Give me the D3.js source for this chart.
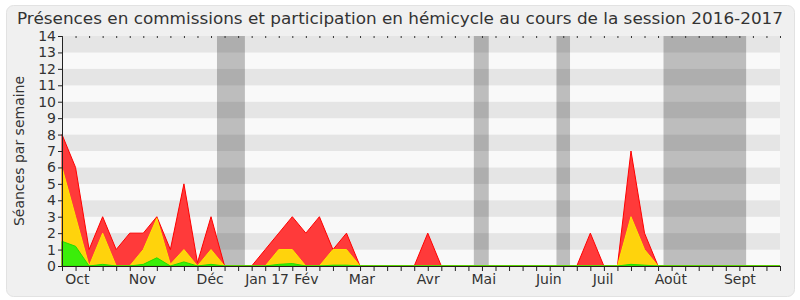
<!DOCTYPE html>
<html>
<head>
<meta charset="utf-8">
<script src="https://cdn.jsdelivr.net/npm/d3@7"></script>
<style>
  body { margin: 0; background: #fff; }
  text { font-family: "DejaVu Sans", sans-serif; fill: #333; }
</style>
</head>
<body>
<div id="chart"></div>
<script>
// weekly values (top of each layer), week 0..53
const totalTop = [8, 6, 1, 3, 1, 2, 2, 3, 1, 5, 0.2, 3, 0, 0, 0, 1, 2, 3, 2, 3, 1, 2, 0, 0, 0, 0, 0, 2, 0, 0, 0, 0, 0, 0, 0, 0, 0, 0, 0, 2, 0, 0, 7, 2, 0, 0, 0, 0, 0, 0, 0, 0, 0, 0];
const yellowTop = [6, 3, 0, 2, 0, 0, 1, 2.9, 0.1, 1, 0, 1, 0, 0, 0, 0, 1, 1, 0, 0, 1, 1, 0, 0, 0, 0, 0, 0, 0, 0, 0, 0, 0, 0, 0, 0, 0, 0, 0, 0, 0, 0, 3, 1, 0, 0, 0, 0, 0, 0, 0, 0, 0, 0];
const greenTop = [1.5, 1.2, 0, 0.1, 0, 0, 0.1, 0.5, 0, 0.25, 0, 0.1, 0, 0, 0, 0, 0.1, 0.15, 0, 0, 0.05, 0.05, 0, 0, 0, 0, 0, 0, 0, 0, 0, 0, 0, 0, 0, 0, 0, 0, 0, 0, 0, 0, 0.1, 0.05, 0, 0, 0, 0, 0, 0, 0, 0, 0, 0];

const monthLabels = ["Oct", "Nov", "Déc", "Jan 17", "Fév", "Mar", "Avr", "Mai", "Juin", "Juil", "Août", "Sept"];
const monthWeeks = [1.1, 5.9, 10.9, 15.1, 18, 22.1, 27, 31.1, 35.9, 39.9, 44.9, 50];

// vacation periods, in weeks
const vacStart = [11.44, 30.4, 36.5, 44.4];
const vacEnd = [13.5, 31.5, 37.5, 50.5];

const width = 800, height = 300;
const margin = {top: 36, right: 20, bottom: 34, left: 62};
const innerW = width - margin.left - margin.right;
const innerH = height - margin.top - margin.bottom;

const svg = d3.select('#chart').append('svg')
    .attr('width', width)
    .attr('height', height);

svg.append('rect')
    .attr('x', 6.5).attr('y', 5.5)
    .attr('width', 788).attr('height', 291)
    .attr('rx', 7)
    .attr('fill', '#f0f0f0')
    .attr('stroke', '#e2e2e2');

svg.append('text')
    .attr('x', 400).attr('y', 24)
    .attr('text-anchor', 'middle')
    .attr('font-size', 16)
    .attr('textLength', 766)
    .attr('lengthAdjust', 'spacingAndGlyphs')
    .text('Présences en commissions et participation en hémicycle au cours de la session 2016-2017');

const g = svg.append('g')
    .attr('transform', `translate(${margin.left},${margin.top})`);

const x = d3.scaleLinear().domain([0, totalTop.length - 1]).range([0, innerW]);
const y = d3.scaleLinear().domain([0, 14]).range([innerH, 0]);

// stripes
g.selectAll('.stripe').data(d3.range(14))
    .enter().append('rect')
    .attr('x', 0)
    .attr('width', innerW)
    .attr('y', d => y(d + 1))
    .attr('height', d => y(d) - y(d + 1))
    .attr('fill', d => d % 2 ? '#e5e5e5' : '#f9f9f9');

// vacations
g.selectAll('.vac').data(vacStart)
    .enter().append('rect')
    .attr('x', d => x(d))
    .attr('width', (d, i) => x(vacEnd[i]) - x(d))
    .attr('y', 0)
    .attr('height', innerH)
    .attr('fill', 'rgba(0,0,0,0.24)');

const layers = [
    {data: totalTop, fill: '#ff3a3a', stroke: '#ff0000'},
    {data: yellowTop, fill: '#ffd30c', stroke: '#ffe600'},
    {data: greenTop, fill: '#3bee0a', stroke: '#22dd00'}
];

layers.forEach(l => {
    const area = d3.area()
        .x((d, i) => x(i))
        .y0(y(0))
        .y1(d => y(d));
    g.append('path')
        .datum(l.data)
        .attr('d', area)
        .attr('fill', l.fill)
        .attr('stroke', l.stroke)
        .attr('stroke-width', 1);
});

// axes
const yAxis = g.append('g')
    .call(d3.axisLeft(y).ticks(14).tickSize(4).tickPadding(2));
yAxis.selectAll('text').attr('font-size', 14).attr('fill', '#333');
yAxis.select('.domain').attr('stroke', '#222');
yAxis.selectAll('.tick line').attr('stroke', '#222');

const xTicks = g.append('g')
    .attr('transform', `translate(0,${innerH})`)
    .call(d3.axisBottom(x).tickValues(d3.range(totalTop.length)).tickSize(5).tickFormat(''));
xTicks.select('.domain').attr('stroke', '#2a1a1a');
xTicks.selectAll('.tick line').attr('stroke', '#222');

const xLabels = g.append('g')
    .attr('transform', `translate(0,${innerH})`)
    .call(d3.axisBottom(x).tickValues(monthWeeks).tickSize(0).tickPadding(8)
        .tickFormat((d, i) => monthLabels[i]));
xLabels.select('.domain').remove();
xLabels.selectAll('text').attr('font-size', 14).attr('fill', '#333');

// small top ticks
g.append('g')
    .call(d3.axisTop(x).tickValues(d3.range(totalTop.length)).tickSize(-2).tickFormat(''))
    .call(a => a.select('.domain').remove())
    .selectAll('.tick line').attr('stroke', '#333');

svg.append('text')
    .attr('transform', `translate(24,${margin.top + innerH / 2}) rotate(-90)`)
    .attr('text-anchor', 'middle')
    .attr('font-size', 14)
    .text('Séances par semaine');
</script>
</body>
</html>
